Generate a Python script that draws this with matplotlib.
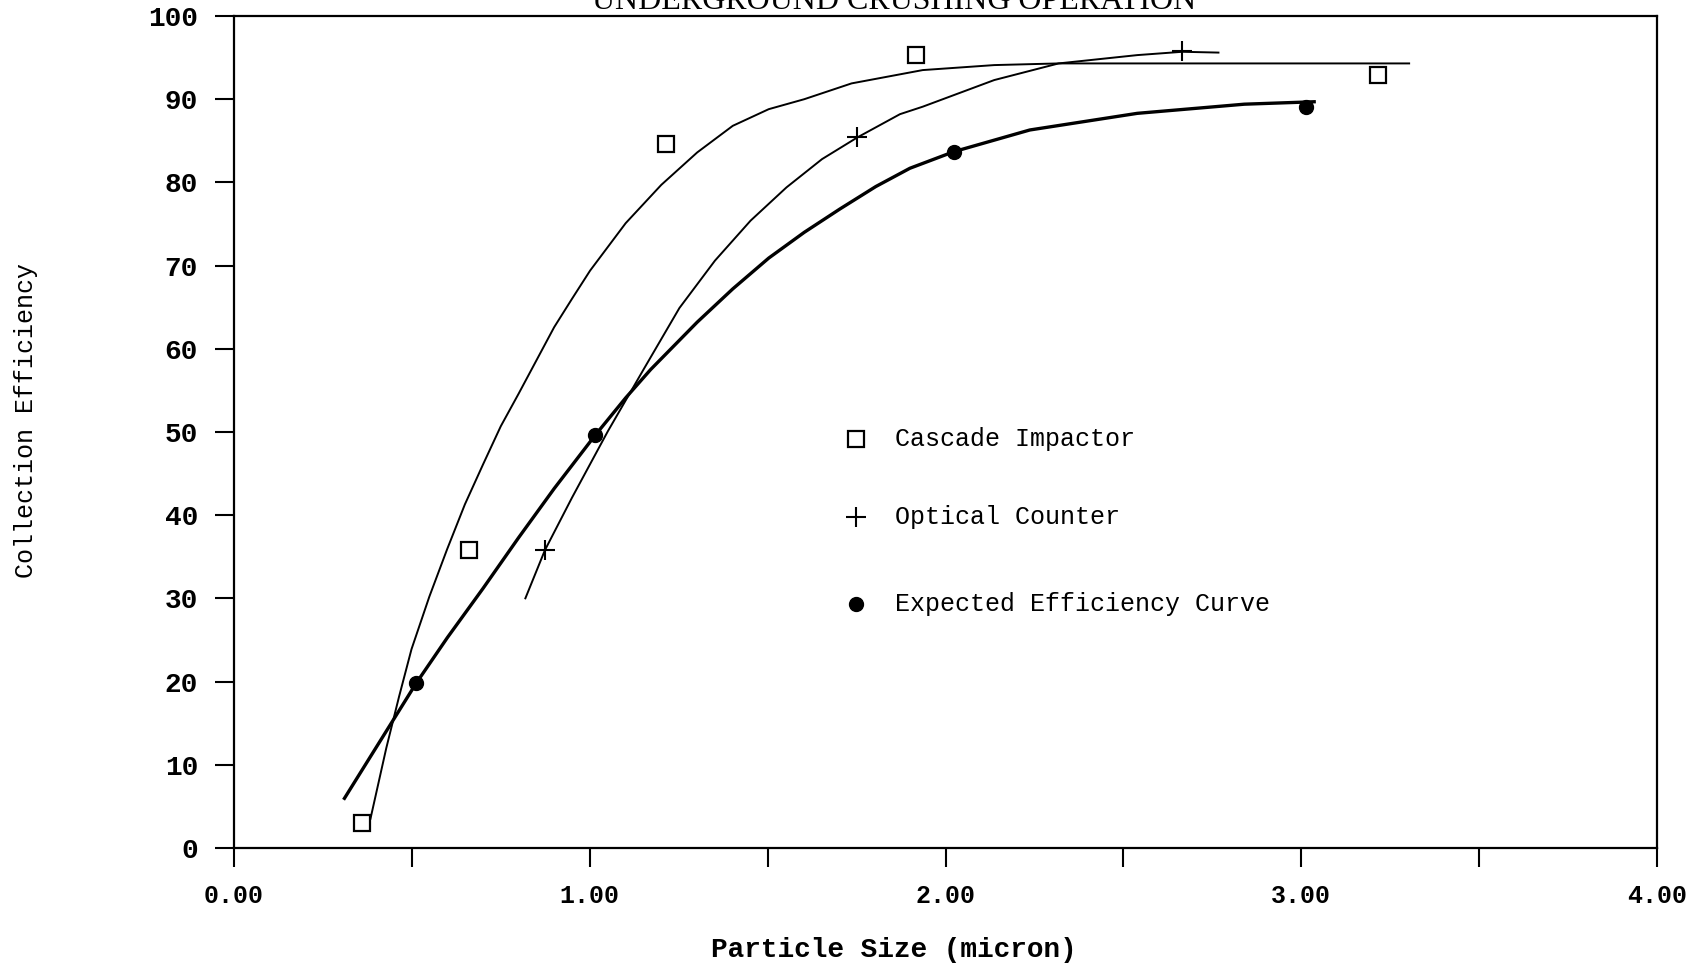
import matplotlib
matplotlib.use("Agg")
import matplotlib.pyplot as plt

# ---- data ----
title = "UNDERGROUND CRUSHING OPERATION"
x_label = "Particle Size (micron)"
y_label = "Collection Efficiency"

cascade_x = [0.36, 0.66, 1.213, 1.917, 3.215]
cascade_y = [3.0, 35.8, 84.6, 95.3, 92.9]

optical_x = [0.874, 1.752, 2.666]
optical_y = [35.8, 85.4, 95.8]

expected_x = [0.512, 1.015, 2.024, 3.013]
expected_y = [19.8, 49.6, 83.7, 89.1]

# fitted curves
cascade_fit_x = [0.383, 0.428, 0.464, 0.499, 0.549, 0.599, 0.649, 0.700, 0.750,
                 0.800, 0.850, 0.900, 0.950, 1.001, 1.101, 1.201, 1.302, 1.402,
                 1.503, 1.603, 1.736, 1.936, 2.137, 2.318, 2.700, 3.306]
cascade_fit_y = [3.4, 12.0, 18.2, 23.9, 30.2, 35.9, 41.3, 46.1, 50.7,
                 54.6, 58.6, 62.6, 66.0, 69.4, 75.1, 79.7, 83.6, 86.8,
                 88.8, 90.0, 91.9, 93.5, 94.1, 94.3, 94.3, 94.3]

optical_fit_x = [0.818, 0.874, 0.950, 1.051, 1.151, 1.252, 1.352, 1.452, 1.553,
                 1.653, 1.752, 1.872, 1.936, 2.137, 2.318, 2.539, 2.666, 2.770]
optical_fit_y = [29.9, 35.8, 42.1, 50.1, 57.5, 64.9, 70.6, 75.4, 79.4,
                 82.8, 85.4, 88.2, 89.1, 92.3, 94.3, 95.3, 95.7, 95.6]

expected_fit_x = [0.308, 0.512, 0.600, 0.700, 0.800, 0.900, 1.015, 1.101, 1.171,
                  1.302, 1.402, 1.503, 1.603, 1.703, 1.804, 1.900, 2.024, 2.237,
                  2.539, 2.840, 3.041]
expected_fit_y = [5.8, 19.8, 25.3, 31.2, 37.3, 43.2, 49.6, 54.1, 57.5,
                  63.2, 67.2, 70.9, 74.0, 76.8, 79.5, 81.7, 83.7, 86.3,
                  88.3, 89.4, 89.7]

xtick_values = [0.0, 0.5, 1.0, 1.5, 2.0, 2.5, 3.0, 3.5, 4.0]
xtick_labels = ["0.00", "", "1.00", "", "2.00", "", "3.00", "", "4.00"]
ytick_values = [0, 10, 20, 30, 40, 50, 60, 70, 80, 90, 100]
ytick_labels = ["0", "10", "20", "30", "40", "50", "60", "70", "80", "90", "100"]

legend_labels = ["Cascade Impactor", "Optical Counter", "Expected Efficiency Curve"]

# ---- figure ----
W, H, DPI = 1703, 965, 100
fig = plt.figure(figsize=(W / DPI, H / DPI), dpi=DPI, facecolor="white")
ax = fig.add_axes([234 / W, 1 - 848 / H, (1657 - 234) / W, (848 - 16) / H])

mono = "Liberation Mono"

ax.plot(cascade_fit_x, cascade_fit_y, color="black", lw=1.4,
        solid_capstyle="butt", solid_joinstyle="round")
ax.plot(optical_fit_x, optical_fit_y, color="black", lw=1.4,
        solid_capstyle="butt", solid_joinstyle="round")
ax.plot(expected_fit_x, expected_fit_y, color="black", lw=2.4,
        solid_capstyle="butt", solid_joinstyle="round")

ax.plot(cascade_x, cascade_y, ls="none", marker="s", ms=11, mfc="white",
        mec="black", mew=1.6, zorder=5)
ax.plot(optical_x, optical_y, ls="none", marker="+", ms=15, mec="black",
        mew=1.5, zorder=5)
ax.plot(expected_x, expected_y, ls="none", marker="o", ms=10, mfc="black",
        mec="black", zorder=5)

ax.set_xlim(0, 4)
ax.set_ylim(0, 100)
ax.set_xticks(xtick_values)
ax.set_xticklabels(xtick_labels)
ax.set_yticks(ytick_values)
ax.set_yticklabels(ytick_labels)
ax.tick_params(axis="both", direction="out", length=14, width=1.5, pad=12,
               labelsize=18, colors="black")
ax.tick_params(axis="y", labelsize=20)
for lab in ax.get_xticklabels() + ax.get_yticklabels():
    lab.set_fontfamily(mono)
    lab.set_fontweight("bold")
for sp in ax.spines.values():
    sp.set_linewidth(1.6)
    sp.set_color("black")

# axis labels
fig.text(26 / W, 1 - 420 / H, y_label, rotation=90, ha="center", va="center",
         family=mono, fontsize=18)
fig.text(894 / W, 1 - 950 / H, x_label, ha="center", va="center",
         family=mono, fontsize=20, fontweight="bold")

# title (cut off at the top like the scan)
fig.text(894 / W, 1 - 9 / H, title, ha="center", va="baseline",
         family="Liberation Serif", fontsize=23)

# manual legend
legend_rows_y = [1 - (439 - 16) / 832, 1 - (517 - 16) / 832, 1 - (604 - 16) / 832]
marker_x = (856 - 234) / 1423
text_x = (895 - 234) / 1423
styles = [dict(marker="s", ms=11, mfc="white", mec="black", mew=1.6),
          dict(marker="+", ms=15, mec="black", mew=1.5),
          dict(marker="o", ms=10, mfc="black", mec="black")]
for yy, lab, st in zip(legend_rows_y, legend_labels, styles):
    ax.plot([marker_x], [yy], ls="none", transform=ax.transAxes, clip_on=False, **st)
    ax.text(text_x, yy, lab, transform=ax.transAxes, ha="left", va="center",
            family=mono, fontsize=18)

fig.savefig("out.png", dpi=DPI, facecolor="white")
